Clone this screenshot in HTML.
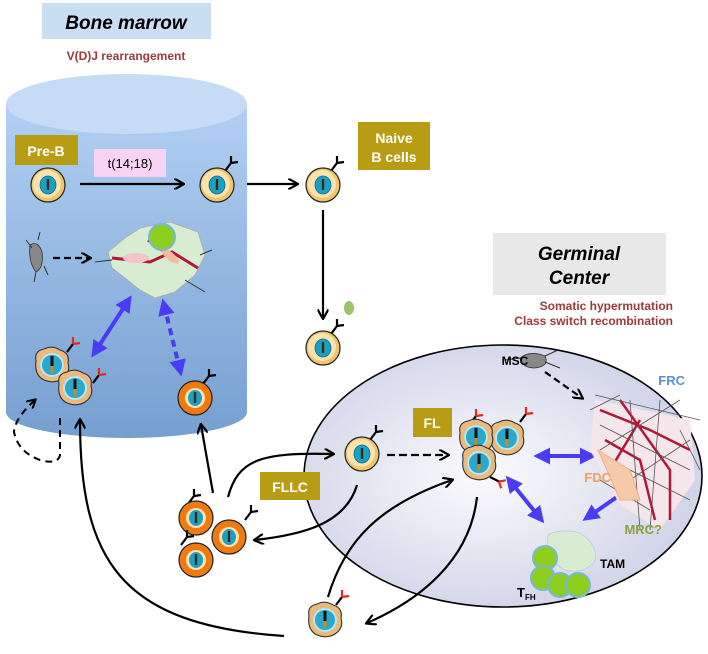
<!DOCTYPE html>
<html><head><meta charset="utf-8"><style>
html,body{margin:0;padding:0;background:#fff}
svg{display:block}
text{font-family:"Liberation Sans",Arial,sans-serif;font-weight:bold}
</style></head><body>
<svg width="708" height="654" viewBox="0 0 708 654" xmlns="http://www.w3.org/2000/svg">
<defs>
<linearGradient id="cyl" x1="0" y1="0" x2="0" y2="1"><stop offset="0" stop-color="#b2d0f3"/><stop offset="1" stop-color="#769fd0"/></linearGradient>
<radialGradient id="gc" cx="0.45" cy="0.5" r="0.6"><stop offset="0" stop-color="#fbfbfd"/><stop offset="1" stop-color="#cdd0e6"/></radialGradient>
<marker id="ah" viewBox="0 0 10 10" refX="8" refY="5" markerWidth="5" markerHeight="5" orient="auto"><path d="M0,0 L9,5 L0,10" fill="none" stroke="#000" stroke-width="2"/></marker>
<marker id="bh" viewBox="0 0 10 10" refX="6" refY="5" markerWidth="4.2" markerHeight="4.2" orient="auto-start-reverse"><path d="M0,0 L10,5 L0,10 z" fill="#4a3cf5"/></marker>
<g id="yc"><circle r="17" fill="#f2c46a" stroke="#222" stroke-width="1.2"/><circle cx="-1" cy="-1" r="14" fill="#fbe3b0"/><ellipse rx="8" ry="9" fill="#1aa0c4" stroke="#0c6c88" stroke-width="0.8"/><rect x="-1.2" y="-6" width="2.4" height="11" fill="#3a2a10"/></g>
<g id="oc"><circle r="17" fill="#f07a10" stroke="#222" stroke-width="1.2"/><circle r="10" fill="#fbe3b0"/><ellipse rx="7" ry="8" fill="#1aa0c4"/><rect x="-1.2" y="-6" width="2.4" height="11" fill="#3a2a10"/></g>
<g id="fl"><path d="M-16,-4 Q-18,-14 -8,-16 Q0,-20 8,-15 Q18,-12 16,-2 Q19,8 10,14 Q2,19 -8,15 Q-18,10 -16,-4z" fill="#eab97c" stroke="#333" stroke-width="1.1"/><ellipse rx="11" ry="11" fill="#2aa7c9" stroke="#b8e6f2" stroke-width="2"/><rect x="-1.5" y="-9" width="3" height="16" fill="#111"/><rect x="-1.5" y="1" width="3" height="7" fill="#c58a2c"/></g>
<g id="yab" fill="none" stroke="#000" stroke-width="2.2"><path d="M0,0 L6,-8 M6,-8 L6,-15 M6,-8 L13,-9"/></g>
<g id="rab" fill="none" stroke-width="2.2"><path d="M0,0 L6,-8" stroke="#000"/><path d="M6,-8 L6,-15 M6,-8 L13,-9" stroke="#e8281c"/></g>
</defs>

<rect x="42" y="3" width="169" height="36" fill="#c9ddf3"/>
<text x="126" y="29" font-size="19" font-style="italic" text-anchor="middle">Bone marrow</text>
<text x="126" y="60" font-size="12" fill="#9a3a3a" text-anchor="middle">V(D)J rearrangement</text>

<path d="M6,103 L6,412 A120.5,26 0 0 0 247,412 L247,103 z" fill="url(#cyl)"/>
<ellipse cx="126.5" cy="104" rx="120.5" ry="30" fill="#c6dcf6"/>

<ellipse cx="503" cy="476" rx="199" ry="131" fill="url(#gc)" stroke="#000" stroke-width="1.6"/>

<rect x="493" y="233" width="173" height="62" fill="#e8e8e8"/>
<text x="579" y="260" font-size="19" font-style="italic" text-anchor="middle">Germinal</text>
<text x="579" y="284" font-size="19" font-style="italic" text-anchor="middle">Center</text>
<text x="673" y="310" font-size="12" fill="#9a3a3a" text-anchor="end">Somatic hypermutation</text>
<text x="673" y="325" font-size="12" fill="#9a3a3a" text-anchor="end">Class switch recombination</text>

<rect x="15" y="135" width="63" height="30" fill="#b89d14"/>
<text x="46" y="156" font-size="14" fill="#fff" text-anchor="middle">Pre-B</text>
<rect x="94" y="149" width="72" height="28" fill="#f9d3f3"/>
<text x="130" y="168" font-size="13" text-anchor="middle" style="font-weight:normal">t(14;18)</text>
<rect x="358" y="122" width="72" height="48" fill="#b89d14"/>
<text x="394" y="143" font-size="14" fill="#fff" text-anchor="middle">Naive</text>
<text x="394" y="162" font-size="14" fill="#fff" text-anchor="middle">B cells</text>
<rect x="260" y="472" width="60" height="28" fill="#b89d14"/>
<text x="290" y="492" font-size="14" fill="#fff" text-anchor="middle">FLLC</text>
<rect x="413" y="408" width="39" height="29" fill="#b89d14"/>
<text x="432" y="428" font-size="14" fill="#fff" text-anchor="middle">FL</text>

<use href="#yc" x="48" y="185"/>
<use href="#yab" x="225" y="171"/><use href="#yc" x="217" y="185"/>
<use href="#yab" x="331" y="171"/><use href="#yc" x="323" y="185"/>
<g stroke="#000" stroke-width="2.2" fill="none" marker-end="url(#ah)">
<line x1="80" y1="184" x2="183" y2="184"/>
<line x1="247" y1="184" x2="297" y2="184"/>
<line x1="323" y1="210" x2="323" y2="318"/>
</g>
<use href="#yab" x="331" y="334"/><use href="#yc" x="323" y="348"/>
<ellipse cx="349" cy="308" rx="5" ry="7" fill="#9cc46a"/>

<!-- bone marrow stroma -->
<g>
<path d="M108,252 L125,238 L140,228 L170,222 L198,232 L205,255 L195,275 L175,292 L155,298 L140,290 L125,278 L112,268z" fill="#d8ecd2" stroke="#aaa" stroke-width="0.8"/>
<path d="M112,258 L150,262 L172,252 L198,268" stroke="#b0183a" stroke-width="3" fill="none"/>
<path d="M148,240 L178,262" stroke="#b0183a" stroke-width="3" fill="none"/>
<ellipse cx="136" cy="258" rx="13" ry="5" fill="#f3c4cc"/>
<ellipse cx="170" cy="256" rx="11" ry="4" fill="#f6b99e" transform="rotate(40 170 256)"/>
<circle cx="162" cy="237" r="13" fill="#8ccf1e" stroke="#7ab8d8" stroke-width="2"/>
<path d="M95,262 L112,260 M185,280 L205,292 M200,255 L212,250" stroke="#333" stroke-width="1" fill="none"/>
</g>
<path d="M30,245 Q38,240 42,252 Q44,268 36,272 Q28,262 30,245z" fill="#888" stroke="#333" stroke-width="0.8"/>
<path d="M26,240 L32,248 M44,266 L48,275 M36,272 L34,282 M38,240 L40,232" stroke="#333" stroke-width="1"/>
<line x1="53" y1="258" x2="90" y2="258" stroke="#000" stroke-width="2.2" stroke-dasharray="7,4" marker-end="url(#ah)"/>
<line x1="128" y1="301" x2="95" y2="352" stroke="#4a3cf5" stroke-width="4" marker-start="url(#bh)" marker-end="url(#bh)"/>
<line x1="164" y1="305" x2="180" y2="370" stroke="#4a3cf5" stroke-width="4" stroke-dasharray="7,5" marker-start="url(#bh)" marker-end="url(#bh)"/>
<use href="#rab" x="67" y="352"/><use href="#fl" x="52" y="365"/>
<use href="#rab" x="93" y="383"/><use href="#fl" x="75" y="388"/>
<use href="#yab" x="203" y="384"/><use href="#oc" x="195" y="398"/>

<path d="M60,418 L60,455 Q58,465 40,460 Q18,452 14,432 Q15,418 35,400" fill="none" stroke="#000" stroke-width="2" stroke-dasharray="7,5" marker-end="url(#ah)"/>

<g stroke="#000" stroke-width="2.2" fill="none" marker-end="url(#ah)">
<path d="M284,636 C120,625 80,560 80,420"/>
<line x1="213" y1="493" x2="201" y2="425"/>
<path d="M228,497 C238,460 260,452 333,454"/>
<path d="M357,485 C345,525 300,535 255,540"/>
<path d="M328,597 C345,540 380,505 452,480"/>
<path d="M477,497 C470,560 420,600 367,623"/>
</g>
<line x1="387" y1="455" x2="448" y2="455" stroke="#000" stroke-width="2.2" stroke-dasharray="8,4" marker-end="url(#ah)"/>

<use href="#yab" x="188" y="504"/><use href="#oc" x="196" y="518"/>
<use href="#yab" x="245" y="520"/><use href="#oc" x="229" y="537"/>
<use href="#yab" x="181" y="545"/><use href="#oc" x="196" y="560"/>
<use href="#yab" x="370" y="440"/><use href="#yc" x="362" y="454"/>
<use href="#rab" x="336" y="605"/><use href="#fl" x="325" y="620"/>

<use href="#rab" x="470" y="424"/><use href="#rab" x="520" y="422"/>
<use href="#fl" x="507" y="438"/><use href="#fl" x="476" y="437"/><use href="#fl" x="479" y="463"/>
<use href="#rab" x="490" y="477" transform="rotate(80 490 477)"/>

<g stroke="#4a3cf5" stroke-width="4" marker-start="url(#bh)" marker-end="url(#bh)">
<line x1="540" y1="456" x2="590" y2="456"/>
<line x1="510" y1="481" x2="540" y2="518"/>
<line x1="588" y1="517" x2="627" y2="490"/>
</g>

<g fill="none">
<path d="M595,400 L690,420 L695,480 L660,530 L620,505 L590,450z" fill="#f4e6ea" stroke="none"/>
<path d="M605,440 L640,460 L655,520 M600,410 L650,430 L690,450 M620,400 L670,470 L670,520 M640,420 L610,470" stroke="#b0183a" stroke-width="2.5"/>
<path d="M595,395 L700,420 M600,425 L690,470 M610,460 L690,500 M630,400 L640,530 M660,400 L650,530 M600,450 L680,400 M615,490 L690,440 M590,410 L620,395 M680,430 L700,470 M600,480 L650,510" stroke="#555" stroke-width="0.8"/>
<path d="M598,450 L630,470 L640,500 L620,500 z" fill="#f6c9a8" stroke="#e9b090"/>
</g>
<path d="M520,358 Q530,350 545,356 Q550,366 535,368 Q522,368 520,358z" fill="#888" stroke="#333" stroke-width="0.8"/>
<path d="M505,360 L520,358 M545,356 L558,350 M545,362 L560,368" stroke="#333" stroke-width="1"/>
<line x1="545" y1="372" x2="582" y2="398" stroke="#000" stroke-width="2.2" stroke-dasharray="7,4" marker-end="url(#ah)"/>

<path d="M548,535 Q560,528 580,533 Q598,545 595,560 Q585,575 565,570 Q545,560 548,535z" fill="#d9ecd2" stroke="#bcd" stroke-width="0.8"/>
<circle cx="545" cy="558" r="12" fill="#8ccf1e" stroke="#7ab8d8" stroke-width="2"/>
<circle cx="543" cy="578" r="12" fill="#8ccf1e" stroke="#7ab8d8" stroke-width="2"/>
<circle cx="560" cy="585" r="12" fill="#8ccf1e" stroke="#7ab8d8" stroke-width="2"/>
<circle cx="578" cy="585" r="12" fill="#8ccf1e" stroke="#7ab8d8" stroke-width="2"/>

<text x="515" y="365" font-size="12" text-anchor="middle">MSC</text>
<text x="685" y="385" font-size="13" fill="#5b8fd6" text-anchor="end">FRC</text>
<text x="611" y="482" font-size="13" fill="#f0a05a" text-anchor="end">FDC</text>
<text x="662" y="534" font-size="13" fill="#8aa03a" text-anchor="end">MRC?</text>
<text x="600" y="568" font-size="12">TAM</text>
<text x="517" y="597" font-size="13">T<tspan font-size="8" dy="3">FH</tspan></text>
</svg>
</body></html>
